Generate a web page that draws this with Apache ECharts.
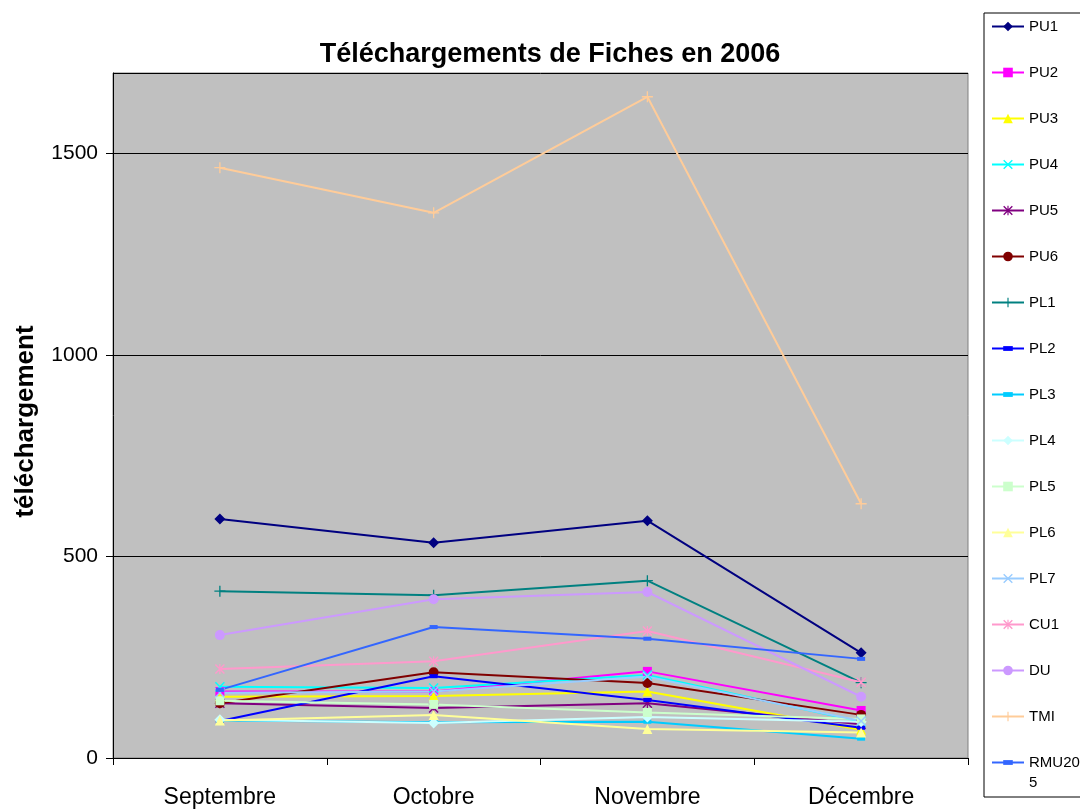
<!DOCTYPE html>
<html>
<head>
<meta charset="utf-8">
<script src="https://cdn.jsdelivr.net/npm/echarts@6/dist/echarts.min.js"></script>
<style>
html,body{margin:0;padding:0;background:#fff;}
#chart{width:1080px;height:809px;}
</style>
</head>
<body>
<div id="chart"></div>
<script>
const categories = ['Septembre', 'Octobre', 'Novembre', 'Décembre'];
const yTicks = [0, 500, 1000, 1500];

const PU1 = [593, 534, 589, 261];
const PU2 = [165, 165, 215, 118];
const PU3 = [152, 154, 165, 70];
const PU4 = [177, 174, 206, 90];
const PU5 = [136, 124, 136, 84];
const PU6 = [136, 213, 186, 107];
const PL1 = [414, 404, 440, 187];
const PL2 = [92, 203, 144, 75];
const PL3 = [93, 89, 90, 48];
const PL4 = [95, 87, 102, 90];
const PL5 = [142, 133, 113, 97];
const PL6 = [93, 107, 72, 63];
const PL7 = [162, 165, 202, 92];
const CU1 = [221, 240, 315, 188];
const DU = [305, 394, 412, 152];
const TMI = [1465, 1353, 1641, 631];
const RMU2005 = [169, 325, 296, 246];

const X_PATH = 'path://M0,1L1,0L5,4L9,0L10,1L6,5L10,9L9,10L5,6L1,10L0,9L4,5Z';
const PLUS_PATH = 'path://M4.4,0H5.6V4.4H10V5.6H5.6V10H4.4V5.6H0V4.4H4.4Z';
const STAR_PATH = 'path://M0,1L1,0L5,4L9,0L10,1L6,5L10,9L9,10L5,6L1,10L0,9L4,5Z M4.4,0H5.6V10H4.4Z';
const BAR_PATH = 'path://M0,0M10,10M0,2.5H10V7.5H0Z';

const seriesDefs = [
  {name: 'PU1', data: PU1, color: '#000080', symbol: 'diamond', size: 11},
  {name: 'PU2', data: PU2, color: '#FF00FF', symbol: 'rect', size: 9},
  {name: 'PU3', data: PU3, color: '#FFFF00', symbol: 'triangle', size: 10},
  {name: 'PU4', data: PU4, color: '#00FFFF', symbol: X_PATH, size: 10},
  {name: 'PU5', data: PU5, color: '#800080', symbol: STAR_PATH, size: 10},
  {name: 'PU6', data: PU6, color: '#800000', symbol: 'circle', size: 10},
  {name: 'PL1', data: PL1, color: '#008080', symbol: PLUS_PATH, size: 11},
  {name: 'PL2', data: PL2, color: '#0000FF', symbol: BAR_PATH, size: 8},
  {name: 'PL3', data: PL3, color: '#00CCFF', symbol: BAR_PATH, size: 8},
  {name: 'PL4', data: PL4, color: '#CCFFFF', symbol: 'diamond', size: 11},
  {name: 'PL5', data: PL5, color: '#CCFFCC', symbol: 'rect', size: 9},
  {name: 'PL6', data: PL6, color: '#FFFF99', symbol: 'triangle', size: 10},
  {name: 'PL7', data: PL7, color: '#99CCFF', symbol: X_PATH, size: 10},
  {name: 'CU1', data: CU1, color: '#FF99CC', symbol: STAR_PATH, size: 10},
  {name: 'DU', data: DU, color: '#CC99FF', symbol: 'circle', size: 10},
  {name: 'TMI', data: TMI, color: '#FFCC99', symbol: PLUS_PATH, size: 11},
  {name: 'RMU2005', data: RMU2005, color: '#3366FF', symbol: BAR_PATH, size: 8}
];

const FONT = '"Liberation Sans", Arial, sans-serif';

const chart = echarts.init(document.getElementById('chart'), null, {renderer: 'canvas'});

chart.setOption({
  backgroundColor: '#FFFFFF',
  animation: false,
  title: {
    text: 'Téléchargements de Fiches en 2006',
    left: 545,
    top: 36,
    textAlign: 'center',
    textStyle: {fontFamily: FONT, fontWeight: 'bold', fontSize: 27, color: '#000'}
  },
  legend: {
    orient: 'vertical',
    left: 984,
    top: 13,
    height: 2000,
    padding: [6, 5, 27, 7],
    itemWidth: 32,
    itemHeight: 12,
    itemGap: 31,
    backgroundColor: '#FFFFFF',
    borderColor: '#000',
    borderWidth: 1,
    textStyle: {fontFamily: FONT, fontSize: 15, color: '#000'},
    formatter: name => (name === 'RMU2005' ? 'RMU200' : name),
    data: seriesDefs.map(s => s.name)
  },
  graphic: [{
    type: 'text',
    left: 1029,
    top: 775,
    z: 100,
    style: {text: '5', fontFamily: FONT, fontSize: 15, fill: '#000'}
  }],
  grid: {
    left: 113, right: 112, top: 73, bottom: 51,
    show: true,
    backgroundColor: '#C0C0C0',
    borderColor: '#808080',
    borderWidth: 1,
    containLabel: false,
    outerBoundsMode: 'none'
  },
  xAxis: {
    type: 'category',
    data: categories,
    boundaryGap: true,
    axisLine: {lineStyle: {color: '#000', width: 1}},
    axisTick: {show: true, length: 7, lineStyle: {color: '#000'}},
    axisLabel: {fontFamily: FONT, fontSize: 23, color: '#000', margin: 28}
  },
  yAxis: {
    type: 'value',
    min: 0,
    max: 1700,
    interval: 500,
    name: 'téléchargement',
    nameLocation: 'middle',
    nameGap: 74,
    nameTextStyle: {fontFamily: FONT, fontWeight: 'bold', fontSize: 26, color: '#000', padding: [0, 12, 0, 0]},
    axisLine: {show: true, lineStyle: {color: '#000', width: 1}},
    axisTick: {show: true, length: 7, lineStyle: {color: '#000'}},
    axisLabel: {fontFamily: FONT, fontSize: 21, color: '#000', margin: 15, showMaxLabel: false,
      formatter: v => String(v)},
    splitLine: {show: true, lineStyle: {color: '#000', width: 1}}
  },
  series: seriesDefs.map(s => ({
    name: s.name,
    type: 'line',
    data: s.data,
    symbol: s.symbol,
    symbolSize: s.size,
    showAllSymbol: true,
    color: s.color,
    lineStyle: {color: s.color, width: 2},
    itemStyle: {color: s.color},
    emphasis: {disabled: true}
  }))
});
</script>
</body>
</html>
